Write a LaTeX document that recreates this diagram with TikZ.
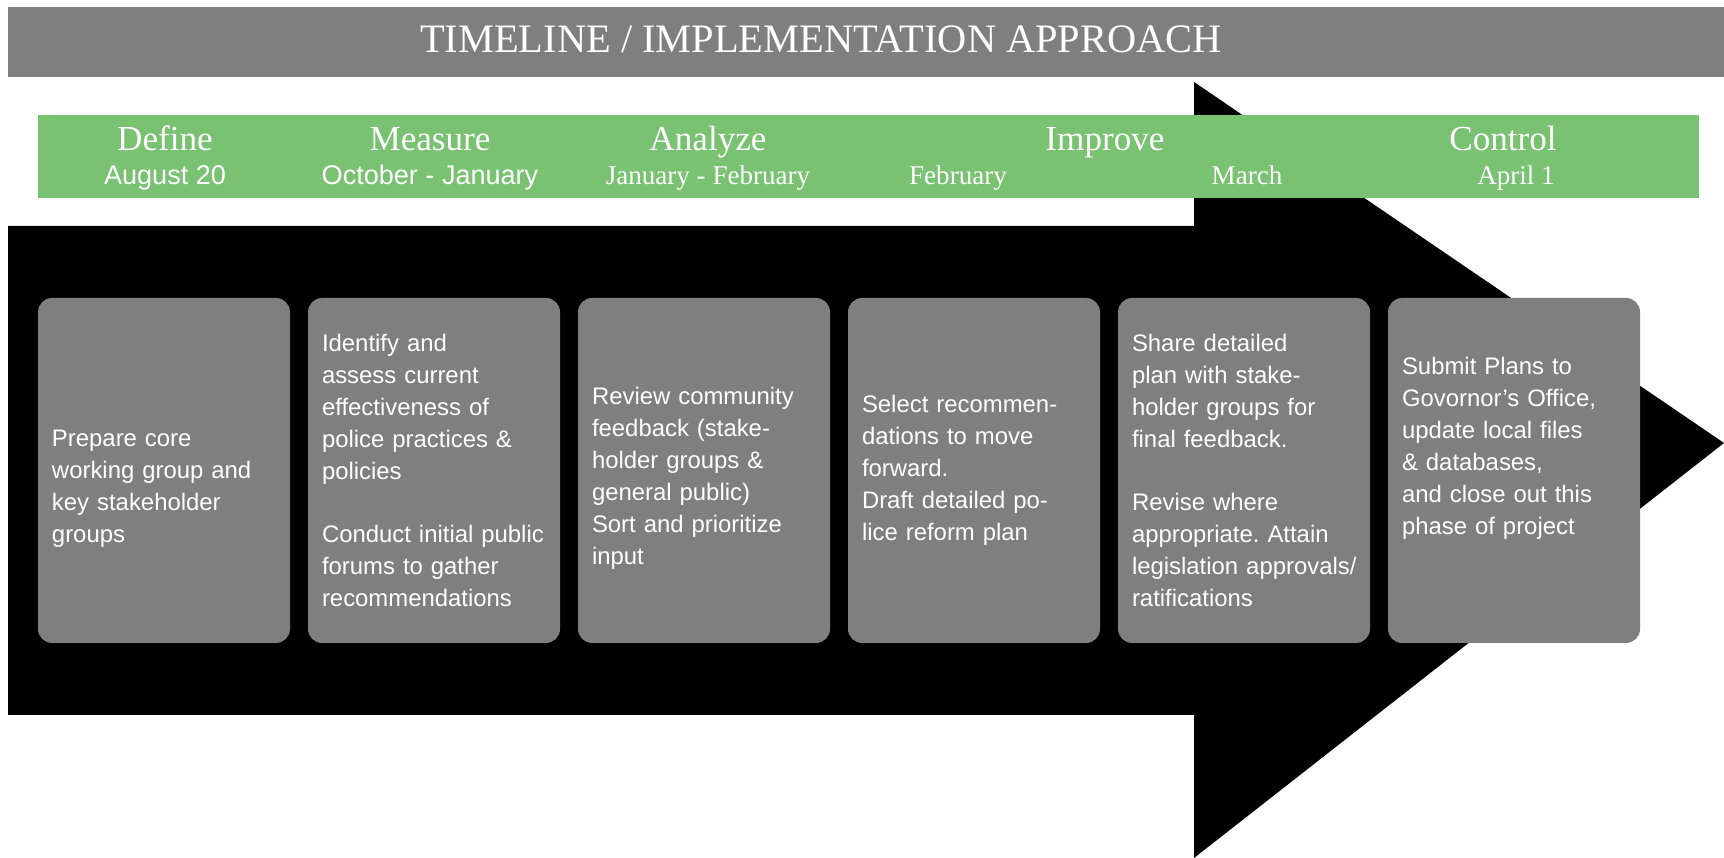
\documentclass[tikz,border=0pt]{standalone}
\usepackage{fontspec}
\setmainfont{Liberation Serif}
\setsansfont{Liberation Sans}
\usetikzlibrary{positioning}

\definecolor{bargray}{HTML}{7F7F7F}
\definecolor{phasegreen}{HTML}{79C271}

\tikzset{
  taskbox/.style={fill=bargray, rounded corners=4pt, text=white, align=left,
    text width=2.24cm, inner xsep=0.14cm, inner ysep=0pt, outer sep=0pt,
    minimum height=3.45cm, font=\sffamily\fontsize{6.8}{9.1}\selectfont\frenchspacing},
  phase/.style={anchor=base, text=white, font=\fontsize{10}{12}\selectfont},
  month/.style={anchor=base, text=white, font=\fontsize{7.7}{9}\selectfont},
  monthsf/.style={month, font=\sffamily\fontsize{7.7}{9}\selectfont}
}

\begin{document}
\begin{tikzpicture}

  \useasboundingbox (0, 0) rectangle (17.24, 8.58);
  \fill[white] (0, 0) rectangle (17.24, 8.58);

  % big arrow behind everything
  \fill[black] (0.08, 6.32) -- (11.94, 6.32) -- (11.94, 7.76) -- (17.24, 4.15)
    -- (11.94, 0) -- (11.94, 1.43) -- (0.08, 1.43) -- cycle;

  % title bar
  \fill[bargray] (0.08, 7.81) rectangle (17.24, 8.51);
  \node [anchor=base, text=white, font=\fontsize{11.5}{13}\selectfont] (title) at (8.21, 8.05)
    {TIMELINE / IMPLEMENTATION APPROACH};

  % phases
  \fill[phasegreen] (0.38, 6.60) rectangle (16.99, 7.43);

  \node [phase] (define) at (1.65, 7.07) {Define};
  \node [phase] (measure) at (4.30, 7.07) {Measure};
  \node [phase] (analyze) at (7.08, 7.07) {Analyze};
  \node [phase] (improve) at (11.05, 7.07) {Improve};
  \node [phase] (control) at (15.03, 7.07) {Control};

  \node [monthsf] (aug) at (1.65, 6.73) {August 20};
  \node [monthsf] (oct) at (4.30, 6.73) {October - January};
  \node [month] (jan) at (7.08, 6.73) {January - February};
  \node [month] (feb) at (9.58, 6.73) {February};
  \node [month] (mar) at (12.47, 6.73) {March};
  \node [month] (apr) at (15.16, 6.73) {April 1};

  % tasks
  \node [taskbox] (prep) at (1.64, 3.875)
    {\rule{0pt}{0.53cm}Prepare core\\working group and\\key stakeholder\\groups};
  \node [taskbox, right=0.18cm of prep] (assess)
    {Identify and\\assess current\\effectiveness of\\police practices \&\\policies\\[9pt]
     Conduct initial public\\forums to gather\\recommendations};
  \node [taskbox, right=0.18cm of assess] (review)
    {\rule{0pt}{0.33cm}Review community\\feedback (stake-\\holder groups \&\\general public)\\
     Sort and prioritize\\input};
  \node [taskbox, right=0.18cm of review] (select)
    {Select recommen-\\dations to move\\forward.\\Draft detailed po-\\lice reform plan};
  \node [taskbox, right=0.18cm of select] (share)
    {Share detailed\\plan with stake-\\holder groups for\\final feedback.\\[9pt]
     Revise where\\appropriate. Attain\\\mbox{legislation approvals/}\\ratifications};
  \node [taskbox, right=0.18cm of share] (submit)
    {Submit Plans to\\Govornor's Office,\\update local files\\\& databases,\\
     and close out this\\phase of project\rule[-0.5cm]{0pt}{0pt}};

\end{tikzpicture}
\end{document}
